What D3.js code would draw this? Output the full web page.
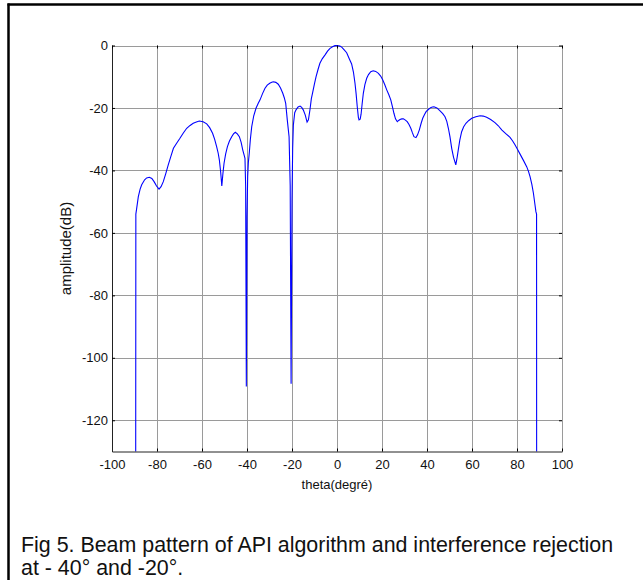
<!DOCTYPE html>
<html>
<head>
<meta charset="utf-8">
<script src="https://cdn.jsdelivr.net/npm/d3@7"></script>
<style>
  body { margin: 0; background: #fff; }
  svg { display: block; font-family: "Liberation Sans", Arial, sans-serif; }
</style>
</head>
<body>
<svg id="chart" width="643" height="580"></svg>
<script>
// beam pattern (theta in degrees, amplitude in dB)
var theta = [
  -89.6, -89.4, -89.0, -88.3, -87.5, -86.8, -85.5, -84.6, -83.4, -82.3,
  -81.3, -80.2, -79.1, -78.2, -77.2, -76.1, -75.0, -73.8, -72.7, -71.2,
  -69.8, -68.3, -66.8, -65.3, -63.9, -62.5, -61.2, -59.5, -57.9, -56.6,
  -55.3, -54.4, -53.5, -52.8, -52.3, -51.7, -51.2, -50.7, -50.2, -49.5,
  -48.7, -47.8, -46.8, -46.0, -45.2, -44.3, -43.4, -42.6, -41.9, -41.3,
  -40.9, -40.6, -40.3, -40.0, -39.7, -39.4, -39.0, -38.5, -37.9, -37.0,
  -36.0, -35.0, -34.2, -33.1, -32.0, -31.0, -29.9, -29.0, -28.3, -27.2,
  -26.1, -25.1, -24.1, -23.4, -22.8, -22.1, -21.3, -20.8, -20.4, -20.0,
  -19.7, -19.4, -18.8, -18.2, -17.3, -16.4, -15.7, -15.0, -14.1, -13.3,
  -12.7, -12.0, -11.4, -10.8, -10.0, -9.3, -8.4, -7.6, -6.5, -5.3,
  -4.2, -3.1, -2.0, -0.9, 0.0, 1.3, 2.2, 3.2, 4.3, 5.5,
  6.5, 7.3, 8.0, 8.5, 9.0, 9.5, 9.8, 10.3, 10.7, 11.2,
  11.7, 12.4, 13.2, 14.0, 15.0, 16.1, 17.2, 18.4, 19.4, 20.3,
  21.2, 22.1, 23.0, 23.9, 24.6, 25.3, 26.0, 26.8, 27.4, 28.0,
  28.8, 29.5, 30.4, 31.2, 32.0, 32.8, 33.5, 34.2, 35.1, 35.8,
  36.6, 37.4, 38.1, 38.9, 39.6, 40.6, 41.6, 42.4, 43.1, 44.4,
  45.8, 47.0, 48.0, 48.8, 49.5, 50.2, 51.0, 51.8, 52.8, 53.4,
  53.9, 54.6, 55.4, 56.3, 57.3, 58.6, 59.9, 61.7, 63.6, 65.0,
  66.5, 68.3, 70.2, 71.7, 73.2, 75.0, 76.9, 78.0, 79.1, 80.2,
  81.3, 82.8, 84.3, 85.1, 85.8, 86.6, 87.3, 87.9, 88.4, 88.7,
  88.8
];
var amplitude = [
  -300, -54, -52, -48.4, -46.0, -44.6, -43.0, -42.4, -42.2, -42.6,
  -43.6, -45.0, -46.0, -45.2, -43.6, -41.0, -38.2, -35.4, -32.9, -31.2,
  -29.7, -28.0, -26.5, -25.6, -24.9, -24.5, -24.2, -24.4, -25.1, -26.3,
  -28.1, -30.0, -32.4, -34.5, -36.6, -40.5, -45.0, -41.0, -37.7, -34.8,
  -32.4, -30.6, -29.2, -28.3, -27.8, -28.3, -29.2, -31.0, -33.4, -35.0,
  -36.1, -45, -109.2, -55, -42, -37.5, -34.5, -30.0, -26.0, -22.5,
  -20.1, -18.5, -17.4, -15.4, -13.7, -12.7, -12.1, -11.8, -11.6, -11.8,
  -12.4, -13.6, -15.3, -16.8, -18.5, -23.8, -29.2, -45, -108.3, -50,
  -33, -25.5, -21.5, -20.6, -19.7, -19.4, -19.8, -20.6, -22.3, -24.5,
  -23.8, -20.5, -17, -15.0, -12.2, -10.0, -7.6, -5.7, -4.2, -3.0,
  -1.8, -0.9, -0.4, -0.05, 0.0, -0.2, -0.6, -1.4, -2.3, -4.3,
  -5.9, -8.5, -12.1, -15.5, -19.6, -23.0, -23.8, -23.6, -22.0, -18.5,
  -15.3, -12.5, -10.5, -9.3, -8.4, -8.1, -8.3, -8.9, -9.8, -11.0,
  -12.5, -14.2, -15.7, -17.4, -19.5, -21.7, -23.5, -24.4, -24.0, -23.7,
  -23.5, -23.5, -23.9, -24.4, -25.3, -26.5, -27.9, -29.2, -29.5, -28.6,
  -27.0, -24.9, -23.3, -22.1, -21.2, -20.5, -19.9, -19.7, -19.6, -20.0,
  -20.9, -21.8, -22.8, -24.3, -26.5, -29.2, -33.0, -35.8, -38.2, -35.8,
  -33.4, -30.2, -27.6, -26.0, -24.9, -24.0, -23.3, -22.8, -22.5, -22.6,
  -23.0, -23.7, -24.7, -25.7, -27.0, -28.2, -29.4, -30.5, -31.8, -33.2,
  -34.7, -36.7, -38.8, -40.3, -42.0, -44.5, -47.3, -50.5, -53.2, -54.0,
  -300
];
var xTicks = [-100, -80, -60, -40, -20, 0, 20, 40, 60, 80, 100];
var yTicks = [-120, -100, -80, -60, -40, -20, 0];
var captionLines = [
  "Fig 5. Beam pattern of API algorithm and interference rejection",
  "at - 40\u00b0 and -20\u00b0."
];

var svg = d3.select("#chart");
var pLeft = 112, pRight = 562, pTop = 45.5, pBottom = 451.5;
var font = "\"Liberation Sans\", Arial, sans-serif";

var x = d3.scaleLinear().domain([-100, 100]).range([pLeft, pRight]);
var y = d3.scaleLinear().domain([-130, 0]).range([pBottom, pTop]);

// outer figure frame (top and left edges only)
svg.append("line").attr("x1", 7.5).attr("x2", 643).attr("y1", 4.5).attr("y2", 4.5)
    .attr("stroke", "#000").attr("stroke-width", 2.5);
svg.append("line").attr("x1", 8.5).attr("x2", 8.5).attr("y1", 3.5).attr("y2", 580)
    .attr("stroke", "#000").attr("stroke-width", 2.5);

// grid
var grid = svg.append("g").attr("stroke", "#9a9a9a").attr("stroke-width", 1);
grid.selectAll(".gx").data(xTicks.slice(1)).enter().append("line")
    .attr("x1", function(d) { return Math.round(x(d)) + 0.5; })
    .attr("x2", function(d) { return Math.round(x(d)) + 0.5; })
    .attr("y1", pTop).attr("y2", pBottom);
grid.selectAll(".gy").data(yTicks).enter().append("line")
    .attr("x1", pLeft).attr("x2", pRight)
    .attr("y1", function(d) { return Math.round(y(d)) + 0.5; })
    .attr("y2", function(d) { return Math.round(y(d)) + 0.5; });

// curve
svg.append("clipPath").attr("id", "clip").append("rect")
    .attr("x", pLeft).attr("y", pTop - 2).attr("width", pRight - pLeft).attr("height", pBottom - pTop + 2);

var line = d3.line()
    .x(function(d, i) { return x(theta[i]); })
    .y(function(d) { return y(d); });

svg.append("path")
    .attr("clip-path", "url(#clip)")
    .attr("d", line(amplitude))
    .attr("fill", "none")
    .attr("stroke", "#0000ff")
    .attr("stroke-width", 1.1);

// axes (inward ticks, matlab style), plain hyphen minus
var fmt = function(d) { return String(d); };
var xAxis = d3.axisBottom(x).tickValues(xTicks).tickFormat(fmt).tickSizeInner(-3).tickSizeOuter(0).tickPadding(8);
var yAxis = d3.axisLeft(y).tickValues(yTicks).tickFormat(fmt).tickSizeInner(-3).tickSizeOuter(0).tickPadding(4);

var gx = svg.append("g").attr("transform", "translate(0," + pBottom + ")").call(xAxis);
var gy = svg.append("g").attr("transform", "translate(" + pLeft + ",0)").call(yAxis);

[gx, gy].forEach(function(g) {
  g.select(".domain").attr("stroke", "#222");
  g.selectAll(".tick line").attr("stroke", "#000");
  g.selectAll("text").attr("font-size", 13).attr("fill", "#111").attr("font-family", font);
});
gx.selectAll("text").attr("dy", "0.71em");

// ticks on top and right edges
svg.append("g").attr("transform", "translate(0," + pTop + ")")
    .call(d3.axisTop(x).tickValues(xTicks).tickSizeInner(-3).tickSizeOuter(0).tickFormat(""))
    .call(function(g) { g.select(".domain").remove(); });
svg.append("g").attr("transform", "translate(" + pRight + ",0)")
    .call(d3.axisRight(y).tickValues(yTicks).tickSizeInner(-3).tickSizeOuter(0).tickFormat(""))
    .call(function(g) { g.select(".domain").remove(); });

// labels
svg.append("text")
    .attr("x", (pLeft + pRight) / 2).attr("y", 489)
    .attr("text-anchor", "middle").attr("font-size", 13).attr("fill", "#111")
    .text("theta(degr\u00e9)");
svg.append("text")
    .attr("transform", "translate(71," + (pTop + pBottom) / 2 + ") rotate(-90)")
    .attr("text-anchor", "middle").attr("font-size", 15).attr("fill", "#111")
    .text("amplitude(dB)");

svg.append("g").selectAll("text").data(captionLines).enter().append("text")
    .attr("x", 21)
    .attr("y", function(d, i) { return 552 + i * 23; })
    .attr("font-size", 21.4).attr("fill", "#111")
    .text(function(d) { return d; });
</script>
</body>
</html>
